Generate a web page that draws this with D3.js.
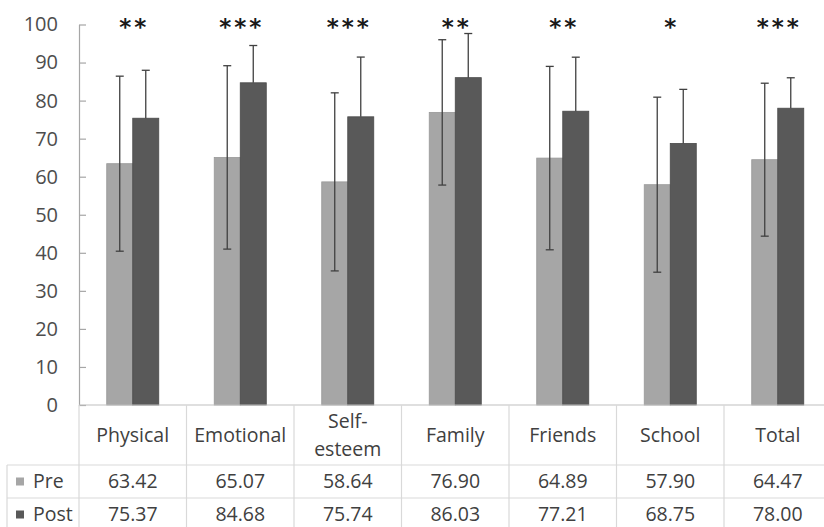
<!DOCTYPE html>
<html>
<head>
<meta charset="utf-8">
<script src="https://cdn.jsdelivr.net/npm/d3@7"></script>
<style>
    body { margin: 0; background: #fff; }
    svg { display: block; }
</style>
</head>
<body>
<div id="chart"></div>
<script>
// Chart data
const categories = ["Physical", "Emotional", "Self-esteem", "Family", "Friends", "School", "Total"];
const categoryLines = [["Physical"], ["Emotional"], ["Self-", "esteem"], ["Family"], ["Friends"], ["School"], ["Total"]];
const seriesNames = ["Pre", "Post"];
const preValues = [63.42, 65.07, 58.64, 76.90, 64.89, 57.90, 64.47];
const postValues = [75.37, 84.68, 75.74, 86.03, 77.21, 68.75, 78.00];
const preSD = [23.0, 24.1, 23.4, 19.1, 24.1, 23.0, 20.1];
const postSD = [12.6, 9.8, 15.7, 11.6, 14.2, 14.2, 8.0];
const significance = ["**", "***", "***", "**", "**", "*", "***"];
const yTicks = [0, 10, 20, 30, 40, 50, 60, 70, 80, 90, 100];

function init() {
    const w = 824;
    const h = 527;
    const plotLeft = 79;   // y axis / table left edge
    const plotRight = 831.5; // table runs past the right edge (cropped)
    const plotTop = 24.5;
    const plotBottom = 405;
    const catRowBottom = 465;
    const preRowBottom = 498;
    const postRowBottom = 531;
    const legendLeft = 7;

    const textColor = "#404040";
    const gridColor = "#d9d9d9";
    const colors = { Pre: "#a6a6a6", Post: "#595959" };
    const font = "'Open Sans', sans-serif";
    const fs = "19.5px";

    const svg = d3.select("#chart")
        .append("svg")
        .attr("width", w)
        .attr("height", h)
        .style("font-family", font);

    // scales
    const x0 = d3.scaleBand()
        .domain(categories)
        .range([plotLeft, plotRight])
        .paddingInner(0)
        .paddingOuter(0);

    const groupW = x0.bandwidth() * 0.484;
    const x1 = d3.scaleBand()
        .domain(seriesNames)
        .range([(x0.bandwidth() - groupW) / 2, (x0.bandwidth() + groupW) / 2]);

    const y = d3.scaleLinear()
        .domain([0, 100])
        .range([plotBottom, plotTop]);

    const rows = categories.map((c, i) => ({
        category: c,
        Pre: preValues[i], Post: postValues[i],
        PreSD: preSD[i], PostSD: postSD[i],
        sig: significance[i]
    }));

    // y axis, ticks pointing inward like Excel
    const yAxis = svg.append("g")
        .attr("transform", `translate(${plotLeft},0)`)
        .call(d3.axisLeft(y).tickValues(yTicks).tickSize(-7).tickSizeOuter(0).tickPadding(21));
    yAxis.select(".domain").attr("stroke", "#a6a6a6").attr("stroke-width", 1.2);
    yAxis.selectAll(".tick line").attr("stroke", "#a6a6a6").attr("stroke-width", 1.2);
    yAxis.selectAll(".tick text")
        .attr("font-family", font)
        .attr("font-size", "20px")
        .attr("fill", "#4d4d4d");

    // bars
    const groups = svg.selectAll("g.cat")
        .data(rows)
        .enter()
        .append("g")
        .attr("class", "cat")
        .attr("transform", d => `translate(${x0(d.category)},0)`);

    seriesNames.forEach(s => {
        groups.append("rect")
            .attr("x", x1(s))
            .attr("y", d => y(d[s]))
            .attr("width", x1.bandwidth())
            .attr("height", d => y(0) - y(d[s]))
            .attr("fill", colors[s])
            .attr("stroke", s === "Pre" ? "#999" : "#4a4a4a")
            .attr("stroke-width", 0.8);
    });

    // error bars (lower half of Post hidden in the dark bar)
    const capW = 4;
    seriesNames.forEach(s => {
        const cx = x1(s) + x1.bandwidth() / 2;
        const eb = groups.append("g").attr("stroke", "#404040").attr("stroke-width", 1.3);
        const low = d => s === "Pre" ? d[s] - d[s + "SD"] : d[s];
        eb.append("line")
            .attr("x1", cx).attr("x2", cx)
            .attr("y1", d => y(d[s] + d[s + "SD"]))
            .attr("y2", d => y(low(d)));
        eb.append("line")
            .attr("x1", cx - capW).attr("x2", cx + capW)
            .attr("y1", d => y(d[s] + d[s + "SD"]))
            .attr("y2", d => y(d[s] + d[s + "SD"]));
        if (s === "Pre") {
            eb.append("line")
                .attr("x1", cx - capW).attr("x2", cx + capW)
                .attr("y1", d => y(low(d)))
                .attr("y2", d => y(low(d)));
        }
    });

    // significance stars
    const starGap = 15;
    rows.forEach(d => {
        const n = d.sig.length;
        const cx = x0(d.category) + x0.bandwidth() / 2;
        for (let k = 0; k < n; k++) {
            svg.append("text")
                .attr("x", cx + (k - (n - 1) / 2) * starGap)
                .attr("y", 35)
                .attr("text-anchor", "middle")
                .attr("font-family", "'DejaVu Sans', sans-serif")
                .attr("font-weight", "bold")
                .attr("font-size", "23px")
                .attr("fill", "#1a1a1a")
                .text("*");
        }
    });

    // data table
    const table = svg.append("g").attr("stroke", gridColor).attr("stroke-width", 1.2);
    // top line (axis baseline)
    table.append("line")
        .attr("x1", plotLeft).attr("x2", plotRight)
        .attr("y1", plotBottom).attr("y2", plotBottom)
        .attr("stroke", "#bfbfbf");
    [catRowBottom, preRowBottom].forEach(yy => {
        table.append("line")
            .attr("x1", legendLeft).attr("x2", plotRight)
            .attr("y1", yy).attr("y2", yy);
    });
    table.append("line")
        .attr("x1", legendLeft).attr("x2", legendLeft)
        .attr("y1", catRowBottom).attr("y2", postRowBottom);
    table.append("line")
        .attr("x1", plotLeft).attr("x2", plotLeft)
        .attr("y1", plotBottom).attr("y2", postRowBottom);
    categories.forEach(c => {
        table.append("line")
            .attr("x1", x0(c) + x0.bandwidth()).attr("x2", x0(c) + x0.bandwidth())
            .attr("y1", plotBottom).attr("y2", postRowBottom);
    });

    // category labels
    const catMid = (plotBottom + catRowBottom) / 2;
    categoryLines.forEach((lines, i) => {
        const cx = x0(categories[i]) + x0.bandwidth() / 2;
        const t = svg.append("text")
            .attr("text-anchor", "middle")
            .attr("font-size", fs)
            .attr("fill", textColor);
        lines.forEach((ln, j) => {
            t.append("tspan")
                .attr("x", cx)
                .attr("y", catMid + (j - (lines.length - 1) / 2) * 28.5)
                .attr("dy", "0.35em")
                .text(ln);
        });
    });

    // value rows
    const rowMids = { Pre: (catRowBottom + preRowBottom) / 2, Post: (preRowBottom + postRowBottom) / 2 };
    const valueArrays = { Pre: preValues, Post: postValues };
    seriesNames.forEach(s => {
        svg.append("rect")
            .attr("x", 16)
            .attr("y", rowMids[s] - 4)
            .attr("width", 8)
            .attr("height", 8)
            .attr("fill", colors[s]);
        svg.append("text")
            .attr("x", 33)
            .attr("y", rowMids[s])
            .attr("dy", "0.35em")
            .attr("font-size", fs)
            .attr("fill", textColor)
            .text(s);
        categories.forEach((c, i) => {
            svg.append("text")
                .attr("x", x0(c) + x0.bandwidth() / 2)
                .attr("y", rowMids[s])
                .attr("dy", "0.35em")
                .attr("text-anchor", "middle")
                .attr("font-size", fs)
                .attr("fill", textColor)
                .text(valueArrays[s][i].toFixed(2));
        });
    });
}

window.onload = init;
</script>
</body>
</html>
